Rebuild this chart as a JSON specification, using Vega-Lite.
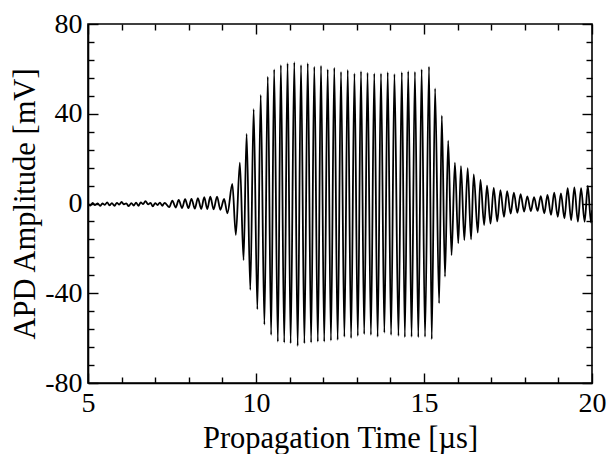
{
  "$schema": "https://vega.github.io/schema/vega-lite/v6.json",
  "width": 504,
  "height": 359,
  "autosize": "none",
  "padding": {"left": 88, "top": 24, "right": 17, "bottom": 71},
  "background": "white",
  "config": {
    "font": "Liberation Serif, Times New Roman, DejaVu Serif, serif",
    "view": {"stroke": "black", "strokeWidth": 1.6},
    "axis": {
      "labelFont": "Liberation Serif, Times New Roman, DejaVu Serif, serif",
      "titleFont": "Liberation Serif, Times New Roman, DejaVu Serif, serif",
      "labelColor": "black",
      "titleColor": "black",
      "labelFontSize": 28,
      "titleFontSize": 30.5,
      "titleFontWeight": "normal",
      "domainColor": "black",
      "domainWidth": 1.6,
      "tickColor": "black",
      "tickWidth": 1.4,
      "grid": false
    }
  },
  "data": {
    "values": [
      {"t": 5.00, "v": -0.2}, {"t": 5.07, "v": -0.9}, {"t": 5.14, "v": 0.3}, {"t": 5.21, "v": -0.7},
      {"t": 5.29, "v": 0.1}, {"t": 5.36, "v": -1.1}, {"t": 5.43, "v": 0.0}, {"t": 5.50, "v": -0.6},
      {"t": 5.57, "v": 0.5}, {"t": 5.64, "v": -0.8}, {"t": 5.71, "v": 0.2}, {"t": 5.79, "v": -1.0},
      {"t": 5.86, "v": 0.3}, {"t": 5.93, "v": -0.5}, {"t": 6.00, "v": 0.7}, {"t": 6.07, "v": -0.4},
      {"t": 6.14, "v": 0.1}, {"t": 6.21, "v": -1.2}, {"t": 6.29, "v": 0.2}, {"t": 6.36, "v": -0.9},
      {"t": 6.43, "v": 0.4}, {"t": 6.50, "v": -1.0}, {"t": 6.57, "v": 0.5}, {"t": 6.64, "v": -0.3},
      {"t": 6.71, "v": 1.1}, {"t": 6.79, "v": -0.4}, {"t": 6.86, "v": 0.3}, {"t": 6.93, "v": -1.3},
      {"t": 7.00, "v": 0.2}, {"t": 7.07, "v": -0.7}, {"t": 7.14, "v": 0.4}, {"t": 7.21, "v": -1.0},
      {"t": 7.28, "v": 0.3}, {"t": 7.42, "v": -1.6}, {"t": 7.51, "v": 1.3}, {"t": 7.61, "v": -1.8},
      {"t": 7.70, "v": 1.6}, {"t": 7.80, "v": -2.0}, {"t": 7.89, "v": 1.9}, {"t": 7.99, "v": -2.1},
      {"t": 8.08, "v": 2.1}, {"t": 8.18, "v": -2.3}, {"t": 8.27, "v": 2.4}, {"t": 8.37, "v": -2.4},
      {"t": 8.46, "v": 2.8}, {"t": 8.55, "v": -2.5}, {"t": 8.64, "v": 3.0}, {"t": 8.74, "v": -2.6},
      {"t": 8.84, "v": 3.1}, {"t": 8.94, "v": -2.8}, {"t": 9.05, "v": 2.0}, {"t": 9.15, "v": -4.4},
      {"t": 9.295, "v": 8.7}, {"t": 9.40, "v": -14}, {"t": 9.52, "v": 18.2}, {"t": 9.63, "v": -25.2},
      {"t": 9.72, "v": 31}, {"t": 9.83, "v": -38.5}, {"t": 9.93, "v": 42}, {"t": 10.04, "v": -47.2},
      {"t": 10.14, "v": 48.4}, {"t": 10.25, "v": -54}, {"t": 10.35, "v": 56.5}, {"t": 10.45, "v": -58.6},
      {"t": 10.54, "v": 59.8}, {"t": 10.65, "v": -61.6}, {"t": 10.74, "v": 61.7}, {"t": 10.84, "v": -62},
      {"t": 10.94, "v": 62.5}, {"t": 11.03, "v": -62.3}, {"t": 11.14, "v": 63}, {"t": 11.24, "v": -63.5},
      {"t": 11.34, "v": 61.7}, {"t": 11.44, "v": -62.3}, {"t": 11.54, "v": 62.5}, {"t": 11.64, "v": -62},
      {"t": 11.735, "v": 61}, {"t": 11.84, "v": -61.6}, {"t": 11.935, "v": 61.4}, {"t": 12.03, "v": -61.6},
      {"t": 12.134, "v": 59.8}, {"t": 12.23, "v": -61.1}, {"t": 12.33, "v": 60.5}, {"t": 12.43, "v": -60.8},
      {"t": 12.53, "v": 58.7}, {"t": 12.63, "v": -59.4}, {"t": 12.73, "v": 59.5}, {"t": 12.83, "v": -60},
      {"t": 12.93, "v": 58}, {"t": 13.03, "v": -59}, {"t": 13.125, "v": 59}, {"t": 13.22, "v": -58.2},
      {"t": 13.32, "v": 58.3}, {"t": 13.42, "v": -58.6}, {"t": 13.52, "v": 58}, {"t": 13.62, "v": -59.4},
      {"t": 13.72, "v": 58}, {"t": 13.82, "v": -57.6}, {"t": 13.92, "v": 58.5}, {"t": 14.02, "v": -58.6},
      {"t": 14.12, "v": 57.7}, {"t": 14.24, "v": -59}, {"t": 14.34, "v": 58.5}, {"t": 14.43, "v": -59.6},
      {"t": 14.53, "v": 59}, {"t": 14.63, "v": -59.4}, {"t": 14.73, "v": 58.7}, {"t": 14.83, "v": -59.6},
      {"t": 14.93, "v": 59.8}, {"t": 15.03, "v": -59.4}, {"t": 15.15, "v": 61}, {"t": 15.23, "v": -60.5},
      {"t": 15.33, "v": 51.3}, {"t": 15.45, "v": -44.5}, {"t": 15.53, "v": 39.1}, {"t": 15.625, "v": -32.6},
      {"t": 15.72, "v": 28}, {"t": 15.82, "v": -23}, {"t": 15.92, "v": 18.2}, {"t": 16.02, "v": -17.7},
      {"t": 16.10, "v": 16.7}, {"t": 16.20, "v": -16.3}, {"t": 16.30, "v": 15.7}, {"t": 16.40, "v": -16},
      {"t": 16.48, "v": 13}, {"t": 16.60, "v": -13}, {"t": 16.68, "v": 10.5}, {"t": 16.79, "v": -9.6},
      {"t": 16.875, "v": 8}, {"t": 16.98, "v": -9}, {"t": 17.075, "v": 7}, {"t": 17.18, "v": -8},
      {"t": 17.275, "v": 6}, {"t": 17.38, "v": -6}, {"t": 17.475, "v": 5.5}, {"t": 17.58, "v": -4.5},
      {"t": 17.675, "v": 4.8}, {"t": 17.78, "v": -4.2}, {"t": 17.875, "v": 4.2}, {"t": 17.98, "v": -3.6},
      {"t": 18.075, "v": 3.2}, {"t": 18.18, "v": -3.4}, {"t": 18.275, "v": 2.8}, {"t": 18.38, "v": -3.3},
      {"t": 18.475, "v": 3.3}, {"t": 18.58, "v": -4.4}, {"t": 18.675, "v": 3.8}, {"t": 18.78, "v": -5.1},
      {"t": 18.875, "v": 4.8}, {"t": 18.98, "v": -5.9}, {"t": 19.075, "v": 4.5}, {"t": 19.18, "v": -6.6},
      {"t": 19.275, "v": 6.8}, {"t": 19.38, "v": -7.4}, {"t": 19.475, "v": 7.2}, {"t": 19.58, "v": -8.1},
      {"t": 19.675, "v": 6.8}, {"t": 19.78, "v": -8.1}, {"t": 19.875, "v": 7.8}, {"t": 19.97, "v": -8.5},
      {"t": 20.0, "v": -3}
    ]
  },
  "layer": [
    {
      "mark": {"type": "line", "color": "black", "strokeWidth": 1.8, "interpolate": "monotone", "clip": true},
      "encoding": {
        "x": {
          "field": "t", "type": "quantitative",
          "scale": {"domain": [5, 20], "nice": false, "zero": false},
          "axis": {
            "orient": "bottom",
            "title": "Propagation Time [µs]",
            "values": [5,6,7,8,9,10,11,12,13,14,15,16,17,18,19,20],
            "tickSize": {"condition": {"test": "datum.value % 5 === 0", "value": -10}, "value": -6},
            "labelExpr": "datum.value % 5 === 0 ? '' + datum.value : ''",
            "labelPadding": 16,
            "labelFlush": false,
            "labelOverlap": false,
            "titlePadding": 2
          }
        },
        "y": {
          "field": "v", "type": "quantitative",
          "scale": {"domain": [-80, 80], "nice": false, "zero": false},
          "axis": {
            "orient": "left",
            "title": "APD Amplitude [mV]",
            "values": [-80,-72,-64,-56,-48,-40,-32,-24,-16,-8,0,8,16,24,32,40,48,56,64,72,80],
            "tickSize": {"condition": {"test": "datum.value % 40 === 0", "value": -10}, "value": -6},
            "labelExpr": "datum.value % 40 === 0 ? '' + datum.value : ''",
            "labelPadding": 16,
            "labelFlush": false,
            "labelOverlap": false,
            "titleX": -63,
            "titleBaseline": "middle"
          }
        }
      }
    },
    {
      "mark": {"type": "line", "opacity": 0, "interpolate": "monotone"},
      "encoding": {
        "x": {
          "field": "t", "type": "quantitative",
          "axis": {
            "orient": "top", "title": null, "labels": false, "domain": false,
            "values": [5,6,7,8,9,10,11,12,13,14,15,16,17,18,19,20],
            "tickSize": {"condition": {"test": "datum.value % 5 === 0", "value": -10}, "value": -6}
          }
        },
        "y": {
          "field": "v", "type": "quantitative",
          "axis": {
            "orient": "right", "title": null, "labels": false, "domain": false,
            "values": [-80,-72,-64,-56,-48,-40,-32,-24,-16,-8,0,8,16,24,32,40,48,56,64,72,80],
            "tickSize": {"condition": {"test": "datum.value % 40 === 0", "value": -10}, "value": -6}
          }
        }
      }
    }
  ],
  "resolve": {"axis": {"x": "independent", "y": "independent"}}
}
